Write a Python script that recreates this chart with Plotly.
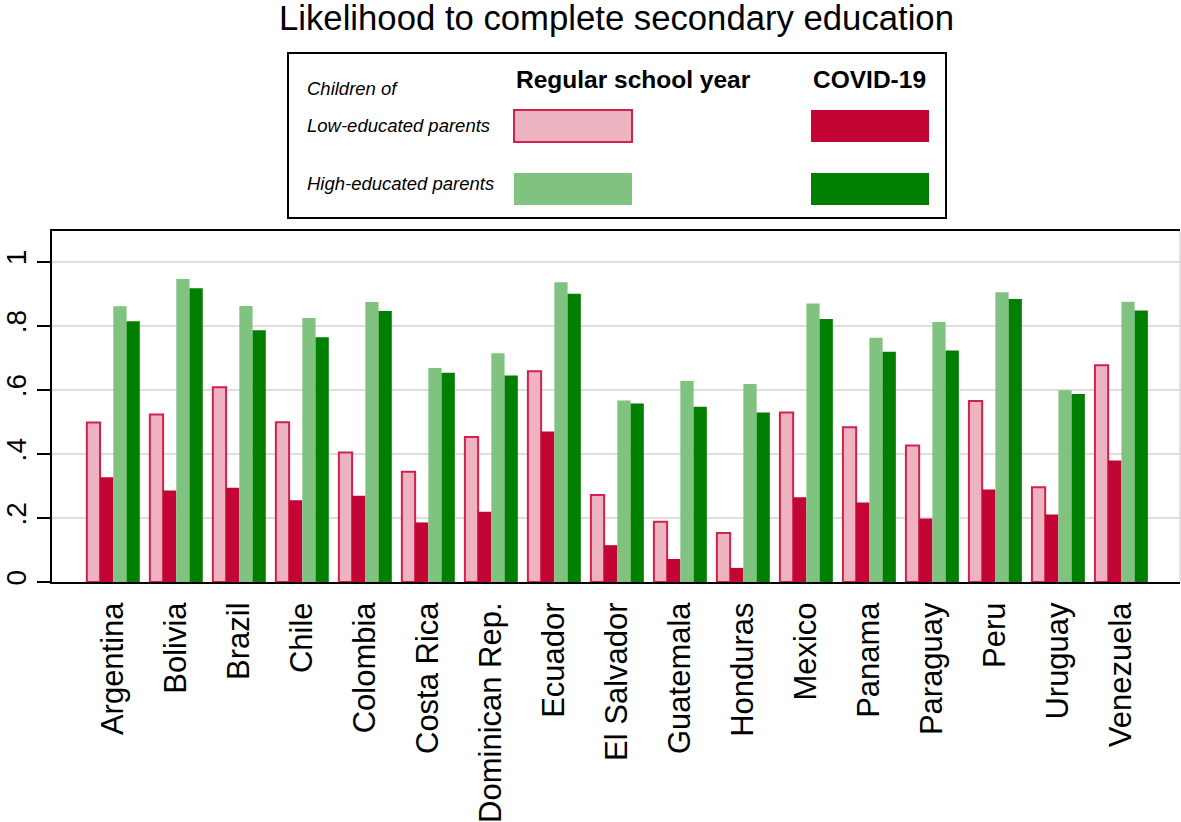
import plotly.graph_objects as go

countries = ["Argentina", "Bolivia", "Brazil", "Chile", "Colombia", "Costa Rica",
             "Dominican Rep.", "Ecuador", "El Salvador", "Guatemala", "Honduras",
             "Mexico", "Panama", "Paraguay", "Peru", "Uruguay", "Venezuela"]
low_regular = [0.498, 0.523, 0.608, 0.499, 0.404, 0.344, 0.453, 0.658, 0.272,
               0.188, 0.153, 0.529, 0.483, 0.426, 0.565, 0.296, 0.677]
low_covid = [0.327, 0.286, 0.294, 0.255, 0.269, 0.186, 0.219, 0.470, 0.115,
             0.072, 0.044, 0.265, 0.248, 0.198, 0.289, 0.211, 0.379]
high_regular = [0.861, 0.946, 0.862, 0.824, 0.874, 0.668, 0.714, 0.936, 0.567,
                0.628, 0.618, 0.870, 0.763, 0.812, 0.905, 0.599, 0.875]
high_covid = [0.814, 0.917, 0.786, 0.764, 0.846, 0.653, 0.645, 0.900, 0.557,
              0.547, 0.529, 0.821, 0.719, 0.723, 0.884, 0.587, 0.848]
y_tickvals = [0, 0.2, 0.4, 0.6, 0.8, 1.0]
y_ticktext = ["0", ".2", ".4", ".6", ".8", "1"]

PINK = "#EDB3C1"
PINK_LINE = "#D0224B"
RED = "#C20535"
LGREEN = "#80C280"
DGREEN = "#007F00"
FONT = "Liberation Sans, Arial, sans-serif"

W, H = 1181, 822
L, R, T, B = 52, 1180, 231, 582


def px(x):
    return (x - L) / (R - L)


def py(y):
    return (B - y) / (B - T)


fig = go.Figure()
fig.add_bar(x=countries, y=low_regular, name="Low regular",
            marker=dict(color=PINK, line=dict(color=PINK_LINE, width=2)))
fig.add_bar(x=countries, y=low_covid, name="Low covid",
            marker=dict(color=RED, line=dict(width=0)))
fig.add_bar(x=countries, y=high_regular, name="High regular",
            marker=dict(color=LGREEN, line=dict(width=0)))
fig.add_bar(x=countries, y=high_covid, name="High covid",
            marker=dict(color=DGREEN, line=dict(width=0)))

shapes = []
# legend box
shapes.append(dict(type="rect", xref="paper", yref="paper",
                   x0=px(288), x1=px(946), y0=py(218), y1=py(53),
                   line=dict(color="black", width=2), fillcolor="white"))
# swatches
sw = [(514, 632, 110, 142, PINK, PINK_LINE, 2),
      (811, 929, 110, 142, RED, RED, 0),
      (514, 632, 173, 205, LGREEN, LGREEN, 0),
      (811, 929, 173, 205, DGREEN, DGREEN, 0)]
for x0, x1, y0, y1, fc, lc, lw in sw:
    shapes.append(dict(type="rect", xref="paper", yref="paper",
                       x0=px(x0), x1=px(x1), y0=py(y1), y1=py(y0),
                       line=dict(color=lc, width=lw), fillcolor=fc))
# right frame line (light)
shapes.append(dict(type="line", xref="paper", yref="paper", x0=1, x1=1, y0=0, y1=1,
                   line=dict(color="#d9d9d9", width=1.5)))


def ann(text, x, y, size):
    return dict(text=text, x=px(x), y=py(y), xanchor="left", yanchor="middle",
                font=dict(size=size, family=FONT, color="black"), showarrow=False,
                xref="paper", yref="paper")


annotations = [
    ann("<i>Children of</i>", 305, 88, 18.5),
    ann("<i>Low-educated parents</i>", 305, 126, 18.5),
    ann("<i>High-educated parents</i>", 305, 183, 18.5),
    ann("<b>Regular school year</b>", 514, 80, 24.5),
    ann("<b>COVID-19</b>", 811, 80, 24.5),
]

fig.update_layout(
    width=W, height=H,
    margin=dict(l=L, r=W - R, t=T, b=H - B, pad=0, autoexpand=False),
    paper_bgcolor="white", plot_bgcolor="white",
    barmode="group", bargap=0.16, bargroupgap=0,
    showlegend=False,
    title=dict(text="Likelihood to complete secondary education",
               x=616.5 / W, xanchor="center", xref="container",
               y=1 - 18 / H, yanchor="middle", yref="container",
               font=dict(size=34.7, family=FONT, color="black")),
    font=dict(family=FONT, color="black"),
    shapes=shapes, annotations=annotations,
)
fig.update_xaxes(range=[-0.973, 16.93], showline=True, linecolor="black", linewidth=2,
                 mirror=True, ticks="", tickangle=-90, showgrid=False, automargin=False,
                 tickfont=dict(size=31, family=FONT, color="black"),
                 ticklabelstandoff=6)
fig.update_yaxes(range=[0, 1.096], tickvals=y_tickvals, ticktext=y_ticktext,
                 showline=True, linecolor="black", linewidth=2, automargin=False,
                 ticks="outside", ticklen=13, tickwidth=2, tickcolor="black",
                 tickangle=-90, tickfont=dict(size=28, family=FONT, color="black"),
                 showgrid=True, gridcolor="#dedede", gridwidth=2, zeroline=False,
                 ticklabelstandoff=0)

fig.write_html("out.html", config={"displayModeBar": False},
               post_script="document.body.style.margin='0px';")
